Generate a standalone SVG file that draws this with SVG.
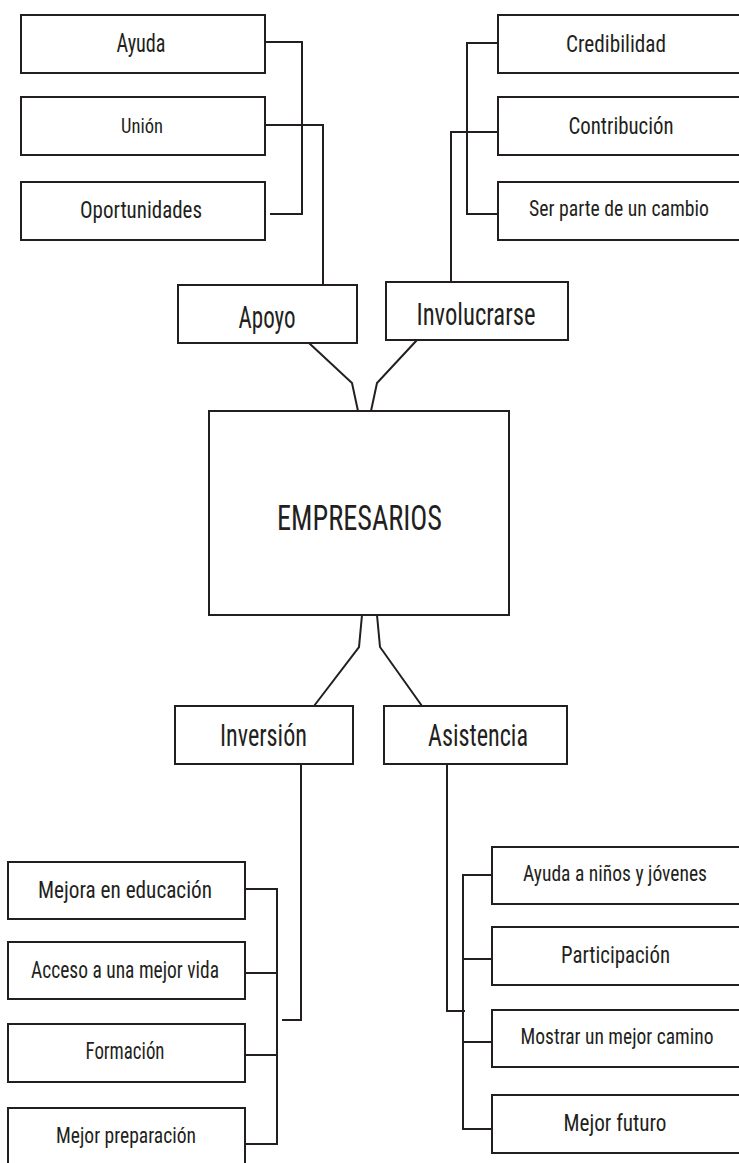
<svg xmlns="http://www.w3.org/2000/svg" width="739" height="1163" viewBox="0 0 739 1163">
<style>
.box{fill:#fff;stroke:#231f20;stroke-width:2}
.ln{fill:none;stroke:#231f20;stroke-width:2;stroke-linejoin:miter}
text{font-family:"Liberation Sans Narrow","Roboto Condensed","DejaVu Sans Condensed","Liberation Sans",sans-serif;fill:#231f20;text-anchor:middle}
</style>
<rect width="739" height="1163" fill="#fff"/>
<g id="connectors">
<polyline class="ln" points="265,42 302,42 302,214 270,214"/>
<polyline class="ln" points="265,125 323,125 323,285"/>
<polyline class="ln" points="498,43 467,43 467,214 497,214"/>
<polyline class="ln" points="498,132 451,132 451,282"/>
<polyline class="ln" points="309,343 352,383 358,411"/>
<polyline class="ln" points="417,340 377,383 371,411"/>
<polyline class="ln" points="362,615 359,647 314,706"/>
<polyline class="ln" points="377,615 380,647 422,706"/>
<polyline class="ln" points="301,764 301,1020 282,1020"/>
<polyline class="ln" points="245,889 277,889 277,1144 245,1144"/>
<line class="ln" x1="245" y1="973" x2="277" y2="973"/>
<line class="ln" x1="245" y1="1055" x2="277" y2="1055"/>
<polyline class="ln" points="447,764 447,1011 465,1011"/>
<polyline class="ln" points="495,875 463,875 463,1129 492,1129"/>
<line class="ln" x1="463" y1="959" x2="492" y2="959"/>
<line class="ln" x1="463" y1="1042" x2="492" y2="1042"/>
</g>
<g id="n-ayuda"><rect class="box" x="21" y="15" width="244" height="58"/><text x="141" y="52" font-size="25" textLength="49" lengthAdjust="spacingAndGlyphs">Ayuda</text></g>
<g id="n-union"><rect class="box" x="21" y="97" width="244" height="58"/><text x="142" y="133" font-size="21" textLength="42" lengthAdjust="spacingAndGlyphs">Unión</text></g>
<g id="n-oportunidades"><rect class="box" x="21" y="182" width="244" height="58"/><text x="141" y="218" font-size="24" textLength="122" lengthAdjust="spacingAndGlyphs">Oportunidades</text></g>
<g id="n-credibilidad"><rect class="box" x="498" y="15" width="250" height="58"/><text x="616" y="52" font-size="24" textLength="100" lengthAdjust="spacingAndGlyphs">Credibilidad</text></g>
<g id="n-contribucion"><rect class="box" x="498" y="97" width="250" height="58"/><text x="621" y="134" font-size="24" textLength="105" lengthAdjust="spacingAndGlyphs">Contribución</text></g>
<g id="n-serparte"><rect class="box" x="498" y="182" width="250" height="58"/><text x="619" y="216" font-size="22" textLength="180" lengthAdjust="spacingAndGlyphs">Ser parte de un cambio</text></g>
<g id="n-apoyo"><rect class="box" x="178" y="285" width="179" height="58"/><text x="267" y="328" font-size="32" textLength="57" lengthAdjust="spacingAndGlyphs">Apoyo</text></g>
<g id="n-involucrarse"><rect class="box" x="386" y="282" width="182" height="58"/><text x="476" y="325" font-size="32" textLength="119" lengthAdjust="spacingAndGlyphs">Involucrarse</text></g>
<g id="n-empresarios"><rect class="box" x="209" y="411" width="300" height="204"/><text x="359.5" y="530" font-size="35" textLength="165" lengthAdjust="spacingAndGlyphs">EMPRESARIOS</text></g>
<g id="n-inversion"><rect class="box" x="175" y="706" width="178" height="58"/><text x="263.5" y="746" font-size="31" textLength="87" lengthAdjust="spacingAndGlyphs">Inversión</text></g>
<g id="n-asistencia"><rect class="box" x="384" y="706" width="183" height="58"/><text x="478" y="746" font-size="31" textLength="100" lengthAdjust="spacingAndGlyphs">Asistencia</text></g>
<g id="n-mejora"><rect class="box" x="8" y="862" width="237" height="57"/><text x="125" y="898" font-size="24" textLength="174" lengthAdjust="spacingAndGlyphs">Mejora en educación</text></g>
<g id="n-acceso"><rect class="box" x="8" y="942" width="237" height="57"/><text x="125" y="978" font-size="23" textLength="188" lengthAdjust="spacingAndGlyphs">Acceso a una mejor vida</text></g>
<g id="n-formacion"><rect class="box" x="8" y="1024" width="237" height="58"/><text x="125" y="1059" font-size="23" textLength="79" lengthAdjust="spacingAndGlyphs">Formación</text></g>
<g id="n-preparacion"><rect class="box" x="8" y="1108" width="237" height="70"/><text x="126" y="1143" font-size="22" textLength="140" lengthAdjust="spacingAndGlyphs">Mejor preparación</text></g>
<g id="n-ninos"><rect class="box" x="492" y="847" width="256" height="57"/><text x="615" y="881" font-size="22" textLength="184" lengthAdjust="spacingAndGlyphs">Ayuda a niños y jóvenes</text></g>
<g id="n-participacion"><rect class="box" x="492" y="927" width="256" height="58"/><text x="615.5" y="963" font-size="24" textLength="109" lengthAdjust="spacingAndGlyphs">Participación</text></g>
<g id="n-mostrar"><rect class="box" x="492" y="1010" width="256" height="57"/><text x="617" y="1044" font-size="22" textLength="193" lengthAdjust="spacingAndGlyphs">Mostrar un mejor camino</text></g>
<g id="n-futuro"><rect class="box" x="492" y="1095" width="256" height="58"/><text x="615" y="1131" font-size="24" textLength="103" lengthAdjust="spacingAndGlyphs">Mejor futuro</text></g>
</svg>
